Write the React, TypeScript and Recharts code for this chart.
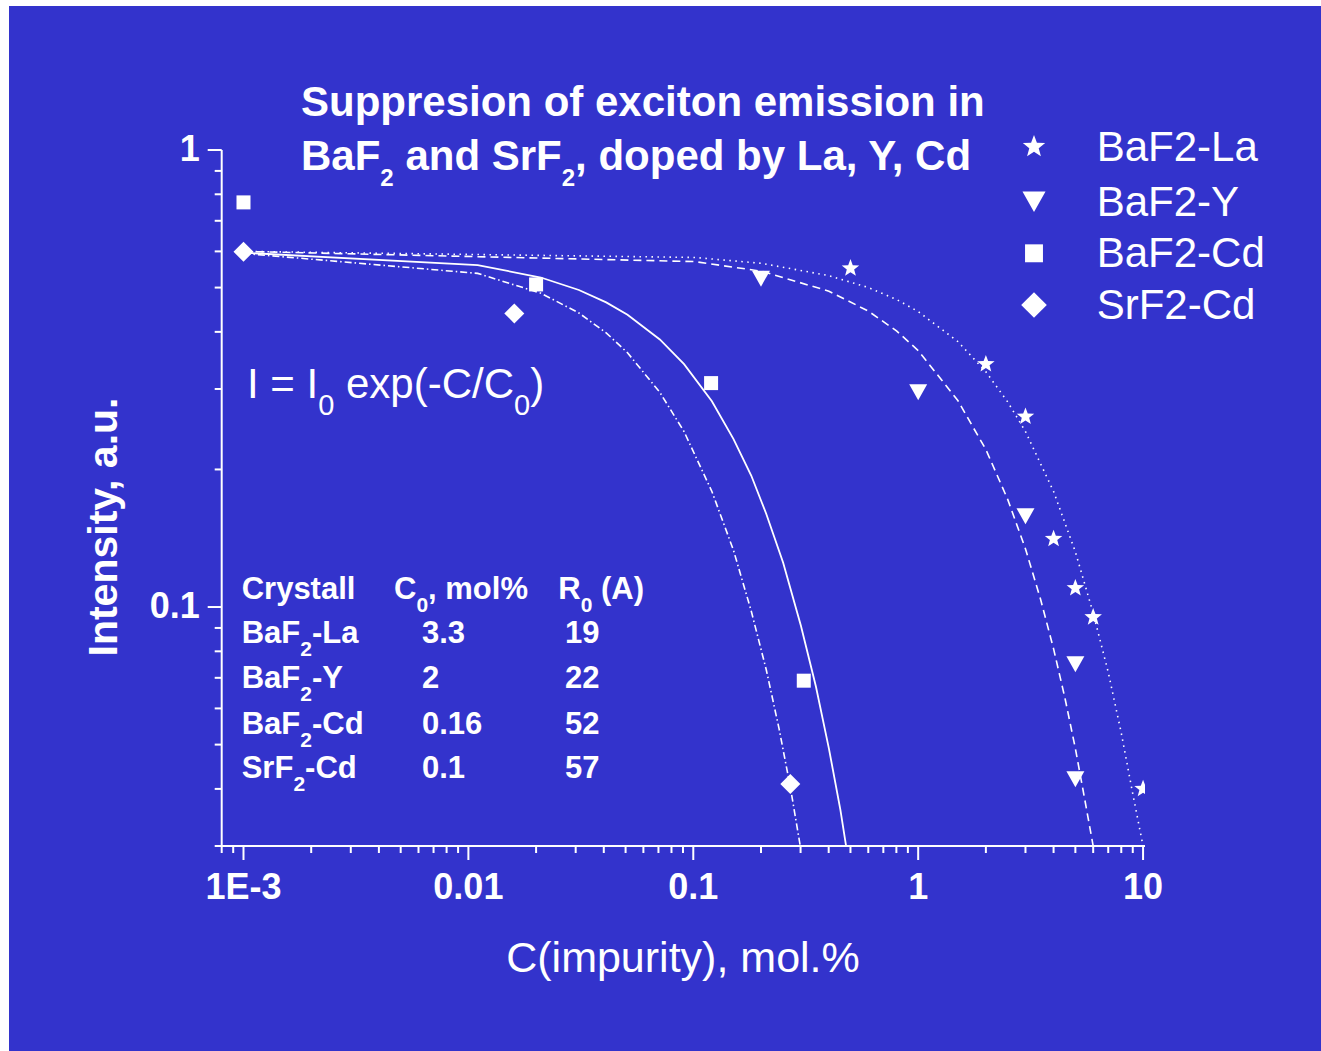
import React from 'react';
import { ComposedChart, Line, Scatter, XAxis, YAxis } from 'recharts';

const BG = '#3333cc';
const FG = '#ffffff';
const FONT = '"Liberation Sans", Arial, Helvetica, sans-serif';

// measured points (concentration mol.%, intensity a.u.)
const laConc = [0.5, 2, 3, 4, 5, 6, 10];
const laInt = [0.551, 0.34, 0.261, 0.141, 0.11, 0.095, 0.04];
const yConc = [0.2, 1, 3, 5, 5];
const yInt = [0.523, 0.295, 0.158, 0.075, 0.042];
const cdConc = [0.001, 0.02, 0.12, 0.31];
const cdInt = [0.768, 0.508, 0.309, 0.069];
const srConc = [0.001, 0.016, 0.27];
const srInt = [0.599, 0.439, 0.041];

// fit curves
const laFitConc = [0.001, 0.101, 0.201, 0.401, 0.601, 0.801, 1.001, 1.501, 2.001, 2.501, 3.001, 4.001, 5.001, 6.001, 7.001, 8.001, 9.001, 10.0];
const laFitInt = [0.6, 0.582, 0.565, 0.531, 0.5, 0.471, 0.443, 0.381, 0.327, 0.281, 0.242, 0.179, 0.132, 0.097, 0.072, 0.053, 0.039, 0.03];
const yFitConc = [0.001, 0.101, 0.201, 0.401, 0.601, 0.801, 1.001, 1.501, 2.001, 2.501, 3.001, 3.501, 4.001, 4.501, 5.001, 5.501, 6.0];
const yFitInt = [0.6, 0.57, 0.543, 0.491, 0.444, 0.402, 0.364, 0.283, 0.221, 0.172, 0.134, 0.104, 0.081, 0.063, 0.049, 0.038, 0.03];
const cdFitConc = [0.001, 0.011, 0.021, 0.031, 0.041, 0.051, 0.071, 0.091, 0.121, 0.151, 0.181, 0.211, 0.251, 0.301, 0.351, 0.401, 0.451, 0.478];
const cdFitInt = [0.596, 0.56, 0.526, 0.494, 0.464, 0.436, 0.385, 0.34, 0.282, 0.233, 0.194, 0.16, 0.125, 0.091, 0.067, 0.049, 0.036, 0.03];
const srFitConc = [0.001, 0.011, 0.021, 0.031, 0.041, 0.051, 0.071, 0.091, 0.121, 0.151, 0.181, 0.211, 0.241, 0.271, 0.299];
const srFitInt = [0.594, 0.537, 0.486, 0.44, 0.398, 0.36, 0.295, 0.242, 0.179, 0.133, 0.098, 0.073, 0.054, 0.04, 0.03];

const xTicks = [0.0008, 0.0009, 0.001, 0.002, 0.003, 0.004, 0.005, 0.006, 0.007, 0.008, 0.009, 0.01, 0.02, 0.03, 0.04, 0.05, 0.06, 0.07, 0.08, 0.09, 0.1, 0.2, 0.3, 0.4, 0.5, 0.6, 0.7, 0.8, 0.9, 1, 2, 3, 4, 5, 6, 7, 8, 9, 10];
const xMajorTicks = [0.001, 0.01, 0.1, 1, 10];
const xTickLabels = ['1E-3', '0.01', '0.1', '1', '10'];
const yTicks = [0.03, 0.04, 0.05, 0.06, 0.07, 0.08, 0.09, 0.1, 0.2, 0.3, 0.4, 0.5, 0.6, 0.7, 0.8, 0.9, 1];
const yMajorTicks = [0.1, 1];
const yTickLabels = ['0.1', '1'];

const legendLabels = ['BaF2-La', 'BaF2-Y', 'BaF2-Cd', 'SrF2-Cd'];
const tableCrystals = [['BaF', '-La'], ['BaF', '-Y'], ['BaF', '-Cd'], ['SrF', '-Cd']];
const tableC0 = ['3.3', '2', '0.16', '0.1'];
const tableR0 = ['19', '22', '52', '57'];

const zip = (xs: number[], ys: number[]) => xs.map((x, i) => ({ x, y: ys[i] }));

const starPath = (cx: number, cy: number, r: number) => {
  const pts: string[] = [];
  for (let i = 0; i < 10; i++) {
    const a = -Math.PI / 2 + (i * Math.PI) / 5;
    const rr = i % 2 ? r * 0.42 : r;
    pts.push(`${cx + rr * Math.cos(a)},${cy + rr * Math.sin(a)}`);
  }
  return 'M' + pts.join('L') + 'Z';
};

const Star = ({ cx, cy, s = 1 }: any) => <path d={starPath(cx, cy, 9.2 * s)} fill={FG} />;
const TriDown = ({ cx, cy, s = 1 }: any) => (
  <path d={`M${cx - 9 * s},${cy - 8 * s}L${cx + 9 * s},${cy - 8 * s}L${cx},${cy + 8 * s}Z`} fill={FG} />
);
const Square = ({ cx, cy, s = 1 }: any) => <rect x={cx - 7 * s} y={cy - 7 * s} width={14 * s} height={14 * s} fill={FG} />;
const Diamond = ({ cx, cy, s = 1 }: any) => (
  <path d={`M${cx},${cy - 10 * s}L${cx + 10 * s},${cy}L${cx},${cy + 10 * s}L${cx - 10 * s},${cy}Z`} fill={FG} />
);

const XTick = (props: any) => {
  const { x, y, payload } = props;
  const i = xMajorTicks.indexOf(payload.value);
  return (
    <g>
      <line x1={x} x2={x} y1={y} y2={y + (i >= 0 ? 14 : 7)} stroke={FG} strokeWidth={2} />
      {i >= 0 && (
        <text x={x} y={y + 53} textAnchor="middle" fill={FG} fontSize={36} fontWeight="bold" fontFamily={FONT}>
          {xTickLabels[i]}
        </text>
      )}
    </g>
  );
};

const YTick = (props: any) => {
  const { x, y, payload } = props;
  const i = yMajorTicks.indexOf(payload.value);
  return (
    <g>
      <line x1={x} x2={x - (i >= 0 ? 14 : 7)} y1={y} y2={y} stroke={FG} strokeWidth={2} />
      {i >= 0 && (
        <text x={x - 22} y={y + 11} textAnchor="end" fill={FG} fontSize={36} fontWeight="bold" fontFamily={FONT}>
          {yTickLabels[i]}
        </text>
      )}
    </g>
  );
};

const W = 1312;
const H = 1045;

export default function App() {
  const legendShapes = [Star, TriDown, Square, Diamond];
  const legendY = [140.7, 195.7, 247.3, 299];
  const tableRowsY = [637.3, 682.3, 728, 772.3];
  return (
    <div style={{ position: 'absolute', left: 9, top: 6, width: W, height: H, background: BG }}>
      <ComposedChart width={W} height={H} margin={{ top: 144, right: 176, bottom: 175, left: 152.7 }}>
        <XAxis
          dataKey="x"
          type="number"
          scale="log"
          domain={[0.0008, 10.2]}
          allowDataOverflow
          ticks={xTicks}
          interval={0}
          height={30}
          tickSize={0}
          tickMargin={0}
          tickLine={false}
          tick={XTick}
          axisLine={{ stroke: FG, strokeWidth: 2 }}
        />
        <YAxis
          dataKey="y"
          type="number"
          scale="log"
          domain={[0.03, 1]}
          allowDataOverflow
          ticks={yTicks}
          interval={0}
          width={60}
          tickSize={0}
          tickMargin={0}
          tickLine={false}
          tick={YTick}
          axisLine={{ stroke: FG, strokeWidth: 2 }}
        />
        <Line data={zip(laFitConc, laFitInt)} dataKey="y" type="linear" stroke={FG} strokeWidth={1.6} strokeDasharray="1.5 4.5" dot={false} activeDot={false} isAnimationActive={false} />
        <Line data={zip(yFitConc, yFitInt)} dataKey="y" type="linear" stroke={FG} strokeWidth={1.6} strokeDasharray="8 5" dot={false} activeDot={false} isAnimationActive={false} />
        <Line data={zip(cdFitConc, cdFitInt)} dataKey="y" type="linear" stroke={FG} strokeWidth={1.8} dot={false} activeDot={false} isAnimationActive={false} />
        <Line data={zip(srFitConc, srFitInt)} dataKey="y" type="linear" stroke={FG} strokeWidth={1.6} strokeDasharray="7 3 1.5 3" dot={false} activeDot={false} isAnimationActive={false} />
        <Scatter data={zip(laConc, laInt)} shape={(p: any) => <Star cx={p.cx} cy={p.cy} />} isAnimationActive={false} />
        <Scatter data={zip(yConc, yInt)} shape={(p: any) => <TriDown cx={p.cx} cy={p.cy} />} isAnimationActive={false} />
        <Scatter data={zip(cdConc, cdInt)} shape={(p: any) => <Square cx={p.cx} cy={p.cy} />} isAnimationActive={false} />
        <Scatter data={zip(srConc, srInt)} shape={(p: any) => <Diamond cx={p.cx} cy={p.cy} />} isAnimationActive={false} />
      </ComposedChart>

      <svg width={W} height={H} style={{ position: 'absolute', left: 0, top: 0, pointerEvents: 'none' }} fontFamily={FONT} fill={FG}>
        {/* title */}
        <text x={292} y={110} fontSize={42} fontWeight="bold">Suppresion of exciton emission in</text>
        <text x={292} y={164} fontSize={42} fontWeight="bold">
          BaF<tspan fontSize={24} dy={16}>2</tspan>
          <tspan dy={-16}>{' and SrF'}</tspan>
          <tspan fontSize={24} dy={16}>2</tspan>
          <tspan dy={-16}>{', doped by La, Y, Cd'}</tspan>
        </text>

        {/* legend */}
        {legendLabels.map((lab, i) => {
          const Sh = legendShapes[i];
          return (
            <g key={lab}>
              <Sh cx={1025} cy={legendY[i]} s={1.28} />
              <text x={1087.7} y={legendY[i] + 14} fontSize={42}>{lab}</text>
            </g>
          );
        })}

        {/* formula */}
        <text x={238} y={392} fontSize={42}>
          I = I<tspan fontSize={29} dy={17}>0</tspan>
          <tspan dy={-17}>{' exp(-C/C'}</tspan>
          <tspan fontSize={29} dy={17}>0</tspan>
          <tspan dy={-17}>)</tspan>
        </text>

        {/* table */}
        <g fontSize={31} fontWeight="bold">
          <text x={232.7} y={593.3}>Crystall</text>
          <text x={385} y={593.3}>
            C<tspan fontSize={21} dy={13}>0</tspan>
            <tspan dy={-13}>{', mol%'}</tspan>
          </text>
          <text x={549.3} y={593.3}>
            R<tspan fontSize={21} dy={13}>0</tspan>
            <tspan dy={-13}>{' (A)'}</tspan>
          </text>
          {tableCrystals.map((c, i) => (
            <g key={i}>
              <text x={232.7} y={tableRowsY[i]}>
                {c[0]}
                <tspan fontSize={21} dy={13}>2</tspan>
                <tspan dy={-13}>{c[1]}</tspan>
              </text>
              <text x={413} y={tableRowsY[i]}>{tableC0[i]}</text>
              <text x={556} y={tableRowsY[i]}>{tableR0[i]}</text>
            </g>
          ))}
        </g>

        {/* axis titles */}
        <text x={674} y={966} fontSize={43} textAnchor="middle">C(impurity), mol.%</text>
        <text transform="translate(108,521) rotate(-90)" fontSize={41} fontWeight="bold" textAnchor="middle">Intensity, a.u.</text>
      </svg>
    </div>
  );
}
